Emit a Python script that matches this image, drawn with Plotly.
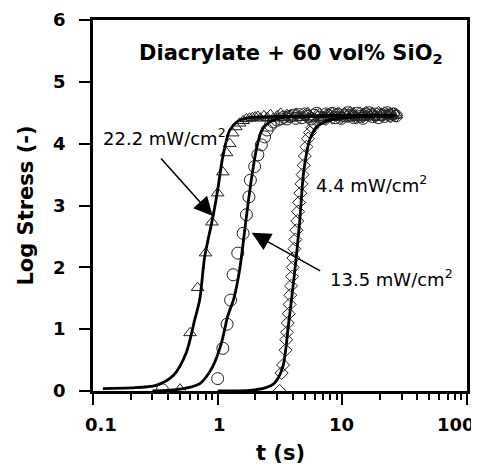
import math
import plotly.graph_objects as go

# ---- data ----
# 22.2 mW/cm2 (triangles)
tri_t = [0.5, 0.6, 0.69, 0.8, 0.9, 1.0, 1.1, 1.18, 1.25, 1.32,
         1.4, 1.5, 1.6, 1.7, 1.8, 1.9, 2.0, 2.1, 2.2, 2.35, 2.5, 2.65, 2.8, 3.0, 3.2, 3.4, 3.6, 3.8,
         4.0, 4.25, 4.5, 4.75, 5.0, 5.3, 5.6, 5.9, 6.2, 6.6, 7.0, 7.4, 7.8, 8.3, 8.8, 9.3, 9.8,
         10.4, 11, 11.6, 12.3, 13, 13.8, 14.6, 15.5, 16.4, 17.4, 18.4, 19.5, 20.6, 21.8, 23,
         24.3, 25.7, 27]
tri_v = [0.03, 0.94, 1.67, 2.23, 2.73, 3.2, 3.54, 3.85, 4.0, 4.17,
         4.27, 4.33, 4.37, 4.4, 4.41, 4.42, 4.43, 4.44, 4.41, 4.45,
         4.42, 4.47, 4.41, 4.45, 4.49, 4.42, 4.47, 4.44, 4.41, 4.49,
         4.45, 4.42, 4.47, 4.50, 4.43, 4.41, 4.47, 4.49, 4.42, 4.47,
         4.44, 4.50, 4.42, 4.47, 4.44, 4.49, 4.41, 4.46, 4.50, 4.44,
         4.42, 4.49, 4.46, 4.43, 4.50, 4.46, 4.42, 4.49, 4.44, 4.47,
         4.49, 4.45, 4.46]

# 13.5 mW/cm2 (circles)
circ_t = [0.36, 1.0, 1.1, 1.19, 1.27, 1.33, 1.45, 1.6, 1.7, 1.78, 1.83, 1.98, 2.1, 2.24, 2.38, 2.49,
          2.65, 2.8, 3.0, 3.2, 3.4, 3.6, 3.8, 4.0, 4.25, 4.5, 4.75, 5.0, 5.3, 5.6, 5.9, 6.2, 6.6,
          7.0, 7.4, 7.8, 8.3, 8.8, 9.3, 9.8, 10.4, 11, 11.6, 12.3, 13, 13.8, 14.6, 15.5, 16.4,
          17.4, 18.4, 19.5, 20.6, 21.8, 23, 24.3, 25.7, 27]
circ_v = [0.02, 0.2, 0.69, 1.08, 1.47, 1.88, 2.23, 2.55, 2.85, 3.14, 3.41, 3.63, 3.82, 3.98, 4.11, 4.22,
          4.3, 4.35, 4.38, 4.4, 4.43, 4.40, 4.44, 4.46, 4.41, 4.47,
          4.42, 4.48, 4.44, 4.40, 4.46, 4.49, 4.43, 4.41, 4.48, 4.45,
          4.49, 4.42, 4.47, 4.41, 4.45, 4.50, 4.46, 4.42, 4.49, 4.44,
          4.41, 4.47, 4.50, 4.44, 4.48, 4.42, 4.47, 4.44, 4.50, 4.46,
          4.48, 4.45]

# 4.4 mW/cm2 (diamonds)
dia_t = [3.14, 3.26, 3.35, 3.5, 3.55, 3.6, 3.65, 3.72, 3.78, 3.82, 3.88, 3.95, 4.0, 4.05, 4.12, 4.2,
         4.28, 4.35, 4.42, 4.5, 4.6, 4.7, 4.8, 4.9, 5.0, 5.15, 5.3, 5.5, 5.75, 6.0, 6.3,
         6.6, 7.0, 7.4, 7.8, 8.3, 8.8, 9.3, 9.8, 10.4, 11, 11.6, 12.3, 13, 13.8, 14.6, 15.5,
         16.4, 17.4, 18.4, 19.5, 20.6, 21.8, 23, 24.3, 25.7, 27]
dia_v = [0.0, 0.29, 0.42, 0.66, 0.83, 0.95, 1.1, 1.25, 1.4, 1.55, 1.7, 1.85, 2.0, 2.15, 2.3, 2.45,
         2.6, 2.75, 2.9, 3.05, 3.2, 3.35, 3.5, 3.65, 3.8, 3.95, 4.08, 4.18, 4.26, 4.32, 4.36,
         4.39, 4.42, 4.40, 4.46, 4.42, 4.47, 4.49, 4.43, 4.48, 4.44,
         4.50, 4.45, 4.42, 4.49, 4.44, 4.50, 4.46, 4.48, 4.44, 4.50,
         4.46, 4.49, 4.47, 4.44, 4.48, 4.46]

# fitted curves
fit1_t = [0.12, 0.2, 0.32, 0.44, 0.56, 0.654, 0.717, 0.787, 0.917, 1.0, 1.1, 1.25, 1.45, 1.8, 3, 27]
fit1_v = [0.04, 0.05, 0.09, 0.25, 0.62, 1.15, 1.47, 2.17, 2.82, 3.25, 3.79, 4.22, 4.36, 4.42, 4.44, 4.45]
fit2_t = [0.3, 0.5, 0.72, 0.91, 1.07, 1.2, 1.35, 1.5, 1.7, 1.86, 2.04, 2.24, 2.53, 3.0, 4, 27]
fit2_v = [0.0, 0.03, 0.12, 0.39, 0.77, 1.2, 1.5, 1.96, 2.82, 3.41, 3.9, 4.2, 4.33, 4.4, 4.44, 4.46]
fit3_t = [1.0, 1.8, 2.4, 2.86, 3.33, 3.71, 4.14, 4.54, 4.89, 5.47, 6.2, 7.2, 10, 27]
fit3_v = [0.0, 0.01, 0.05, 0.13, 0.39, 1.1, 1.91, 2.72, 3.53, 4.06, 4.27, 4.35, 4.42, 4.45]

x_ticks = [0.1, 1, 10, 100]
x_ticklabels = ["0.1", "1", "10", "100"]
x_minor = [0.2, 0.3, 0.4, 0.5, 0.6, 0.7, 0.8, 0.9, 2, 3, 4, 5, 6, 7, 8, 9,
           20, 30, 40, 50, 60, 70, 80, 90]
y_ticks = [0, 1, 2, 3, 4, 5, 6]

# placement of the x tick labels (edge labels are kept inside the figure)
lab_anchor = ["left", "center", "center", "right"]
lab_shift = [-10, 2, -1, 10]

FONT = "DejaVu Sans"
MK = "#222222"

fig = go.Figure()
fig.add_trace(go.Scatter(x=tri_t, y=tri_v, mode="markers",
                         marker=dict(symbol="triangle-up-open", size=11, color=MK, line=dict(width=1, color=MK))))
fig.add_trace(go.Scatter(x=circ_t, y=circ_v, mode="markers",
                         marker=dict(symbol="circle-open", size=12, color=MK, line=dict(width=1, color=MK))))
fig.add_trace(go.Scatter(x=dia_t, y=dia_v, mode="markers",
                         marker=dict(symbol="diamond-open", size=10, color=MK, line=dict(width=1, color=MK))))
for ft, fv in [(fit1_t, fit1_v), (fit2_t, fit2_v), (fit3_t, fit3_v)]:
    fig.add_trace(go.Scatter(x=ft, y=fv, mode="lines",
                             line=dict(color="black", width=2.8, shape="spline", smoothing=0.8)))

ann_font = dict(family=FONT, size=18, color="black")
tick_font = dict(family=FONT, size=18, color="black", weight="bold")

annotations = [
    dict(x=0.585, y=5.45, xref="x", yref="y", showarrow=False,
         text="<b>Diacrylate + 60 vol% SiO<sub>2</sub></b>",
         font=dict(family=FONT, size=21, color="black")),
    dict(x=-0.425, y=4.1, xref="x", yref="y", showarrow=False,
         text="22.2 mW/cm<sup>2</sup>", font=ann_font),
    dict(x=1.235, y=3.35, xref="x", yref="y", showarrow=False,
         text="4.4 mW/cm<sup>2</sup>", font=ann_font),
    dict(x=1.395, y=1.83, xref="x", yref="y", showarrow=False,
         text="13.5 mW/cm<sup>2</sup>", font=ann_font),
    dict(x=-0.04, y=2.83, xref="x", yref="y", text="", showarrow=True,
         ax=-53, ay=-59, arrowhead=2, arrowsize=2.5, arrowwidth=1.5, arrowcolor="black", standoff=0),
    dict(x=0.273, y=2.56, xref="x", yref="y", text="", showarrow=True,
         ax=70, ay=39, arrowhead=2, arrowsize=2.5, arrowwidth=1.5, arrowcolor="black", standoff=0),
]
for tv, tl, anc, sh in zip(x_ticks, x_ticklabels, lab_anchor, lab_shift):
    annotations.append(dict(x=math.log10(tv), y=0, xref="x", yref="paper", text=tl,
                            showarrow=False, xanchor=anc, yanchor="top", xshift=sh, yshift=-21,
                            font=tick_font))

fig.update_layout(
    width=479, height=469,
    margin=dict(l=85, r=20, t=12, b=86, autoexpand=False),
    paper_bgcolor="white", plot_bgcolor="white",
    showlegend=False,
    font=dict(family=FONT, color="black"),
    xaxis=dict(type="log", range=[-1, 2], tickmode="array", tickvals=x_ticks, ticktext=x_ticklabels,
               showticklabels=False,
               ticks="outside", ticklen=11, tickwidth=2, tickcolor="black",
               showline=True, linewidth=2.5, linecolor="black", mirror=True,
               showgrid=False, zeroline=False, automargin=False,
               minor=dict(tickmode="array", tickvals=x_minor, ticks="outside", ticklen=6,
                          tickwidth=2, tickcolor="black", showgrid=False)),
    yaxis=dict(range=[0, 6], tickmode="array", tickvals=y_ticks,
               ticks="outside", ticklen=11, tickwidth=2, tickcolor="black",
               showline=True, linewidth=2.5, linecolor="black", mirror=True,
               showgrid=False, zeroline=False, automargin=False, ticklabeloverflow="allow",
               tickfont=tick_font, ticklabelstandoff=10,
               title=dict(text="<b>Log Stress (-)</b>", font=dict(family=FONT, size=21, color="black"), standoff=14)),
    annotations=annotations + [
        dict(x=0.5, y=0, xref="paper", yref="paper", text="<b>t (s)</b>", showarrow=False,
             xanchor="center", yanchor="top", yshift=-48,
             font=dict(family=FONT, size=21, color="black")),
    ],
)

fig.write_html("out.html")
